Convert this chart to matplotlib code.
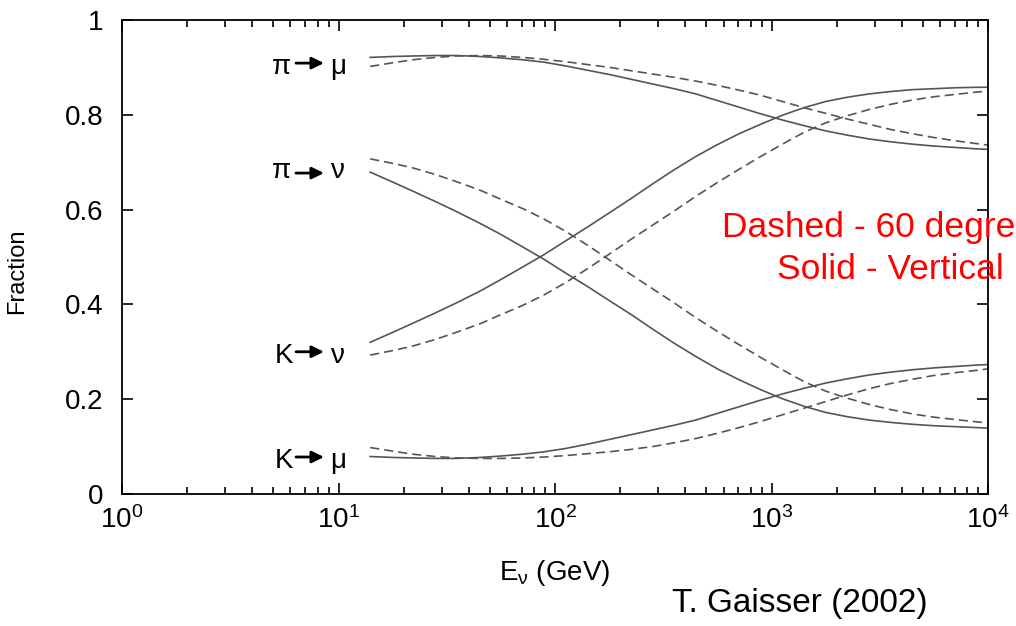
import matplotlib
matplotlib.use('Agg')
import matplotlib.pyplot as plt
from matplotlib.ticker import LogLocator, NullFormatter, FixedLocator

plt.rcParams['font.family'] = ['Liberation Sans', 'DejaVu Sans']
plt.rcParams['mathtext.fontset'] = 'custom'
plt.rcParams['mathtext.rm'] = 'Liberation Sans'
plt.rcParams['mathtext.it'] = 'Liberation Sans'
plt.rcParams['mathtext.default'] = 'regular'

# neutrino energy (GeV)
energy = [14, 18, 22, 28, 35, 45, 56, 71, 89, 112, 141, 178, 224, 282, 355,
          447, 562, 708, 891, 1122, 1413, 1778, 2239, 2818, 3548, 4467, 5623,
          7079, 8913, 10000]

# fractions; solid = vertical, dashed = 60 degrees
pi_mu_vert = [0.921, 0.923, 0.924, 0.925, 0.925, 0.923, 0.920, 0.916, 0.911,
              0.903, 0.894, 0.885, 0.875, 0.865, 0.855, 0.844, 0.830, 0.816,
              0.802, 0.789, 0.777, 0.766, 0.757, 0.749, 0.743, 0.738, 0.734,
              0.731, 0.728, 0.727]
pi_mu_60 = [0.902, 0.910, 0.916, 0.921, 0.924, 0.925, 0.924, 0.921, 0.917,
            0.912, 0.906, 0.900, 0.893, 0.886, 0.879, 0.871, 0.862, 0.852,
            0.841, 0.828, 0.815, 0.803, 0.791, 0.780, 0.769, 0.760, 0.752,
            0.745, 0.739, 0.736]
pi_nu_vert = [0.679, 0.657, 0.639, 0.617, 0.596, 0.571, 0.548, 0.521, 0.495,
              0.466, 0.438, 0.408, 0.379, 0.348, 0.318, 0.290, 0.264, 0.241,
              0.220, 0.201, 0.185, 0.172, 0.163, 0.156, 0.151, 0.147, 0.144,
              0.142, 0.140, 0.139]
pi_nu_60 = [0.707, 0.697, 0.688, 0.674, 0.659, 0.641, 0.622, 0.602, 0.580,
            0.554, 0.525, 0.494, 0.463, 0.433, 0.403, 0.372, 0.343, 0.315,
            0.288, 0.262, 0.237, 0.217, 0.202, 0.189, 0.178, 0.169, 0.162,
            0.157, 0.152, 0.150]
k_nu_vert = [0.320, 0.342, 0.360, 0.382, 0.403, 0.428, 0.452, 0.479, 0.505,
             0.534, 0.563, 0.593, 0.623, 0.654, 0.684, 0.712, 0.737, 0.760,
             0.780, 0.799, 0.815, 0.828, 0.837, 0.844, 0.849, 0.853, 0.855,
             0.857, 0.858, 0.858]
k_nu_60 = [0.293, 0.303, 0.312, 0.326, 0.341, 0.359, 0.378, 0.398, 0.420,
           0.446, 0.475, 0.506, 0.537, 0.567, 0.597, 0.628, 0.657, 0.685,
           0.712, 0.738, 0.763, 0.783, 0.798, 0.811, 0.822, 0.831, 0.838,
           0.843, 0.848, 0.850]
k_mu_vert = [0.079, 0.077, 0.076, 0.075, 0.075, 0.077, 0.080, 0.084, 0.089,
             0.096, 0.105, 0.115, 0.125, 0.135, 0.145, 0.156, 0.170, 0.184,
             0.198, 0.211, 0.223, 0.234, 0.243, 0.251, 0.257, 0.262, 0.266,
             0.269, 0.272, 0.273]
k_mu_60 = [0.098, 0.090, 0.084, 0.079, 0.076, 0.075, 0.075, 0.076, 0.078,
           0.081, 0.085, 0.089, 0.094, 0.100, 0.108, 0.117, 0.128, 0.140,
           0.153, 0.167, 0.181, 0.195, 0.209, 0.222, 0.233, 0.242, 0.250,
           0.256, 0.261, 0.264]

# decay channel labels: parent, daughter, baseline / arrow height
parents = ['π', 'π', 'K', 'K']
daughters = ['μ', 'ν', 'ν', 'μ']
label_base = [0.886, 0.667, 0.276, 0.055]
arrow_y = [0.909, 0.677, 0.300, 0.078]

fig = plt.figure(figsize=(10.16, 6.26), dpi=100)
ax = fig.add_axes([0.1201, 0.2109, 0.8524, 0.7572])

col = '#555555'
for ys in [pi_mu_vert, pi_nu_vert, k_nu_vert, k_mu_vert]:
    ax.plot(energy, ys, color=col, lw=1.2)
for ys in [pi_mu_60, pi_nu_60, k_nu_60, k_mu_60]:
    ax.plot(energy, ys, color=col, lw=1.2, dashes=(5.5, 3))

ax.set_xscale('log')
ax.set_xlim(1, 1e4)
ax.set_ylim(0, 1)
ax.yaxis.set_major_locator(FixedLocator([0, 0.2, 0.4, 0.6, 0.8, 1]))
ax.set_yticklabels(['0', '0.2', '0.4', '0.6', '0.8', '1'])
ax.xaxis.set_major_locator(LogLocator(base=10, numticks=10))
ax.xaxis.set_minor_locator(LogLocator(base=10, subs=range(2, 10), numticks=20))
ax.xaxis.set_minor_formatter(NullFormatter())

ax.tick_params(which='both', direction='in', top=True, right=True,
               labelsize=20, width=1.2)
ax.tick_params(which='major', length=8)
ax.tick_params(which='minor', length=5)
ax.tick_params(axis='x', pad=9)
ax.tick_params(axis='y', pad=13.5)
for s in ax.spines.values():
    s.set_linewidth(1.3)

for p, d, yb, ya in zip(parents, daughters, label_base, arrow_y):
    xp = 5.48 if p == 'π' else 5.60
    ax.text(xp, yb, p, fontsize=20, ha='center', va='baseline')
    ax.text(9.95, yb, d, fontsize=20, ha='center', va='baseline')
    ax.annotate('', xy=(8.57, ya), xytext=(6.36, ya),
                arrowprops=dict(arrowstyle='-|>,head_length=0.45,head_width=0.22',
                                lw=2.0, color='black', mutation_scale=16,
                                shrinkA=0, shrinkB=0))

ax.set_xlabel(r'$E_{\nu}$ (GeV)', fontsize=20)
ax.xaxis.set_label_coords(0.5, -0.135)
ax.set_ylabel('Fraction', fontsize=17)
ax.yaxis.set_label_coords(-0.1085, 0.470)

fig.text(0.661, 0.0224, 'T. Gaisser (2002)', fontsize=24, va='baseline')
fig.text(0.7106, 0.621, 'Dashed - 60 degrees', color='red', fontsize=25.5,
         va='baseline')
fig.text(0.7648, 0.554, 'Solid - Vertical', color='red', fontsize=25.5,
         va='baseline')

fig.savefig('out.png', dpi=100)
